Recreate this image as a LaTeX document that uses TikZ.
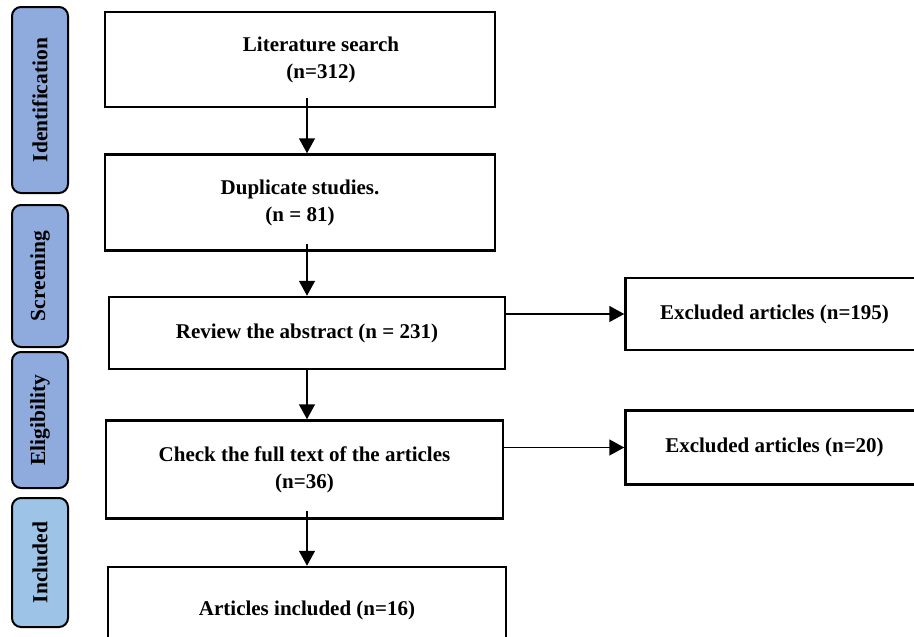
\documentclass[tikz,border=0pt]{standalone}
\usepackage{fontspec}
\setmainfont{Liberation Serif}
\usepackage{tikz}
\usetikzlibrary{positioning}
\usetikzlibrary{arrows.meta}
\usetikzlibrary{calc}
\definecolor{phaseblue}{HTML}{8FAADC}
\definecolor{phaselight}{HTML}{9DC3E6}
\tikzset{stage node/.style={draw,line width=2.5pt,align=center,inner sep=0pt,minimum width=390pt,minimum height=95pt,font=\fontsize{21}{27}\selectfont\bfseries},
  phase node/.style={draw,line width=2pt,rounded corners=9pt,fill=phaseblue,rotate=90,minimum height=56pt,inner sep=0pt,font=\fontsize{21.5}{27}\selectfont\bfseries},
  flow/.style={line width=1.5pt,-{Triangle[width=16pt,length=15pt]}},}

\begin{document}
\begin{tikzpicture}[x=1pt,y=1pt]
    \useasboundingbox (0,0) rectangle (914,-637);

    % phases on the left
    \node[phase node,minimum width=186pt] (idf) at (40,-100) {Identification};
    \node[phase node,minimum width=142pt] (scr) at (40,-276) {Screening};
    \node[phase node,minimum width=136pt] (elg) at (40,-420) {Eligibility};
    \node[phase node,minimum width=129pt,fill=phaselight] (icl) at (40,-562.5) {Included};

    % main flow
    \node[stage node] (lit) at (300,-59.5) {\hspace*{42pt}Literature search\\\hspace*{42pt}(n=312)};
    \node[stage node,minimum height=96pt] (dup) [below = 45pt of lit] {Duplicate studies.\\(n = 81)};
    \node[stage node,minimum width=396pt,minimum height=72pt] (rev) [below = 44pt of dup,xshift=7pt] {Review the abstract (n = 231)};
    \node[stage node,minimum width=397pt,minimum height=98pt] (chk) [below = 49pt of rev,xshift=-2.5pt] {Check the full text of the articles\\(n=36)};
    \node[stage node,minimum width=398pt,minimum height=86pt] (inc) [below = 46pt of chk,xshift=2.5pt] {Articles included (n=16)};

    % excluded
    \node[stage node,minimum width=298pt,minimum height=72pt] (ex1) [right = 118pt of rev,yshift=19pt] {Excluded articles (n=195)};
    \node[stage node,minimum width=298pt,minimum height=74pt] (ex2) [right = 120pt of chk,yshift=22pt] {Excluded articles (n=20)};

    \path[flow]
    ($(lit.south -| rev.north)+(0,10)$) edge (dup.north -| rev.north)
    ($(dup.south -| rev.north)+(0,8)$) edge (rev.north)
    (rev.south) edge (chk.north -| rev.south)
    ($(chk.south -| rev.south)+(0,9)$) edge (inc.north -| rev.south)
    (rev.east |- ex1.west) edge (ex1.west)
    (chk.east |- ex2.west) edge (ex2.west);
\end{tikzpicture}
\end{document}
